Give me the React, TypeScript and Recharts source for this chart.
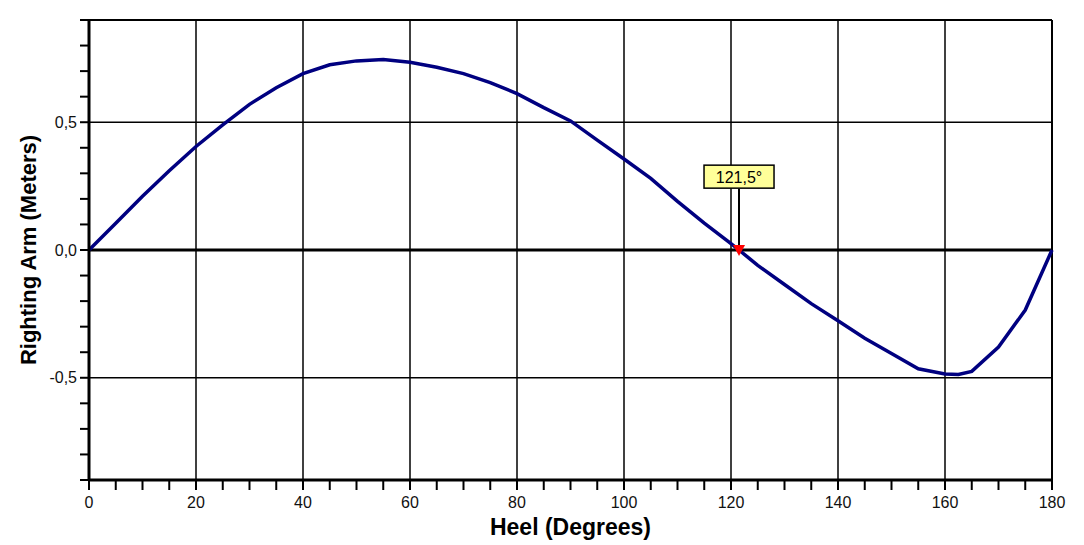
import React from 'react';
import {
  LineChart, Line, XAxis, YAxis, ReferenceLine, ReferenceDot
} from 'recharts';

// Heel angle (degrees) and righting arm (meters)
const heel = [
  0, 5, 10, 15, 20, 25, 30, 35, 40, 45, 50, 55, 60, 65, 70, 75, 80, 85, 90,
  95, 100, 105, 110, 115, 120, 121.5, 125, 130, 135, 140, 145, 150, 155, 160,
  162.5, 165, 170, 175, 180
];
const arm = [
  0, 0.105, 0.21, 0.31, 0.405, 0.49, 0.57, 0.635, 0.69, 0.725, 0.74, 0.745,
  0.735, 0.715, 0.69, 0.655, 0.612, 0.557, 0.505, 0.43, 0.356, 0.28, 0.19,
  0.105, 0.025, 0, -0.06, -0.135, -0.21, -0.277, -0.345, -0.405, -0.465,
  -0.485, -0.487, -0.475, -0.38, -0.235, 0
];

const xTicks = [
  0, 5, 10, 15, 20, 25, 30, 35, 40, 45, 50, 55, 60, 65, 70, 75, 80, 85, 90,
  95, 100, 105, 110, 115, 120, 125, 130, 135, 140, 145, 150, 155, 160, 165,
  170, 175, 180
];
const xLabels = [0, 20, 40, 60, 80, 100, 120, 140, 160, 180];
const yTicks = [
  -0.9, -0.8, -0.7, -0.6, -0.5, -0.4, -0.3, -0.2, -0.1, 0,
  0.1, 0.2, 0.3, 0.4, 0.5, 0.6, 0.7, 0.8, 0.9
];
const yLabels = [-0.5, 0, 0.5];
const gridX = [20, 40, 60, 80, 100, 120, 140, 160];
const gridY = [-0.5, 0.5];

// vanishing point annotation
const vanishAngle = 121.5;
const vanishText = '121,5°';
const calloutY = 0.287;
const calloutBottom = 0.24;

const data = heel.map((h, i) => ({ heel: h, arm: arm[i] }));

const font = '"Liberation Sans", Arial, sans-serif';

const Marker = (props: any) => {
  const { cx, cy } = props;
  return (
    <path
      d={`M${cx - 6},${cy - 5} L${cx + 6},${cy - 5} L${cx},${cy + 6} Z`}
      fill="#ff0000"
    />
  );
};

const Callout = (props: any) => {
  const { cx, cy } = props;
  return (
    <g>
      <rect x={cx - 35} y={cy - 11.5} width={70} height={23}
        fill="#ffff99" stroke="#000" strokeWidth={1.5} />
      <text x={cx} y={cy + 6} textAnchor="middle" fontSize={16}
        fontFamily={font} fill="#000">{vanishText}</text>
    </g>
  );
};

export default function App() {
  return (
    <div style={{ background: '#fff', width: 1076, height: 537 }}>
      <LineChart
        width={1076}
        height={537}
        data={data}
        margin={{ top: 12, right: 32, left: 0, bottom: 7 }}
      >
        {gridX.map(x => (
          <ReferenceLine key={'gx' + x} x={x} stroke="#000" strokeWidth={1.5} />
        ))}
        {gridY.map(y => (
          <ReferenceLine key={'gy' + y} y={y} stroke="#000" strokeWidth={1.5} />
        ))}
        <ReferenceLine y={0.9} stroke="#000" strokeWidth={2} />
        <ReferenceLine x={180} stroke="#000" strokeWidth={2} />
        <ReferenceLine y={0} stroke="#000" strokeWidth={3} />
        <XAxis
          dataKey="heel"
          type="number"
          domain={[0, 180]}
          ticks={xTicks}
          interval={0}
          tickFormatter={(v: number) => (xLabels.includes(v) ? String(v) : '')}
          tick={{ fill: '#111', fontSize: 16, fontFamily: font }}
          tickLine={{ stroke: '#000', strokeWidth: 2 }}
          axisLine={{ stroke: '#000', strokeWidth: 3 }}
          tickSize={10}
          tickMargin={7}
          height={58}
          label={{
            value: 'Heel (Degrees)', position: 'insideBottom', offset: 3,
            style: { fontSize: 23, fontWeight: 'bold', fontFamily: font, fill: '#000' }
          }}
        />
        <YAxis
          type="number"
          domain={[-0.9, 0.9]}
          ticks={yTicks}
          interval={0}
          tickFormatter={(v: number) =>
            yLabels.some(l => Math.abs(l - v) < 1e-6) ? v.toFixed(1).replace('.', ',') : ''}
          tick={{ fill: '#111', fontSize: 16, fontFamily: font }}
          tickLine={{ stroke: '#000', strokeWidth: 2 }}
          axisLine={{ stroke: '#000', strokeWidth: 3 }}
          tickSize={9}
          tickMargin={3}
          width={81}
          label={{
            value: 'Righting Arm (Meters)', angle: -90, position: 'insideLeft', offset: 20,
            style: { textAnchor: 'middle', fontSize: 22, fontWeight: 'bold', fontFamily: font, fill: '#000' }
          }}
        />
        <Line
          type="linear"
          dataKey="arm"
          stroke="#000080"
          strokeWidth={3.5}
          dot={false}
          isAnimationActive={false}
        />
        <ReferenceLine
          segment={[{ x: vanishAngle, y: 0 }, { x: vanishAngle, y: calloutBottom }]}
          stroke="#000"
          strokeWidth={2}
        />
        <ReferenceDot x={vanishAngle} y={calloutY} shape={<Callout />} />
        <ReferenceDot x={vanishAngle} y={0} shape={<Marker />} />
      </LineChart>
    </div>
  );
}
